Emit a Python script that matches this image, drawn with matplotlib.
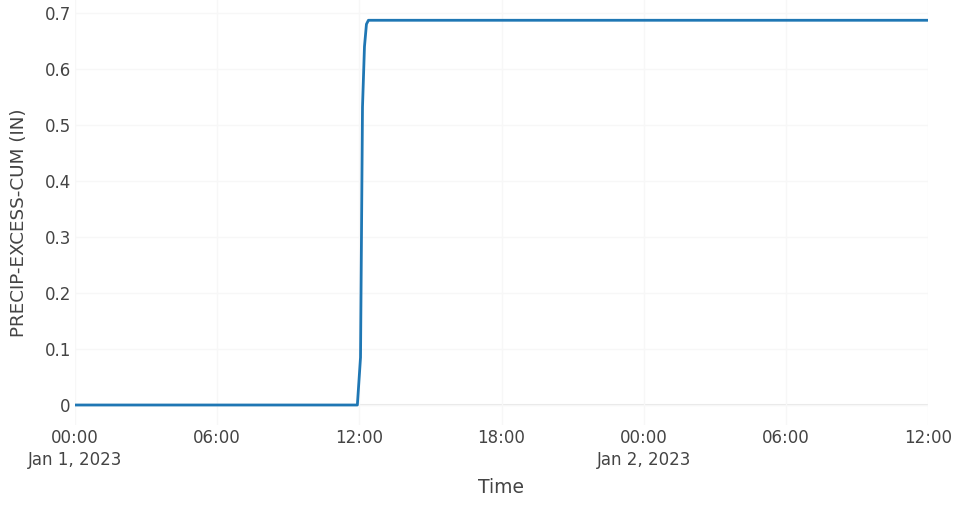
import matplotlib
matplotlib.use("Agg")
import matplotlib.pyplot as plt
import pandas as pd

plt.rcParams["font.family"] = ["DejaVu Sans"]

# cumulative excess precipitation (in)
times = pd.to_datetime([
    "2023-01-01 00:00", "2023-01-01 11:55", "2023-01-01 12:03",
    "2023-01-01 12:08", "2023-01-01 12:13", "2023-01-01 12:18",
    "2023-01-01 12:23", "2023-01-02 12:00",
])
precip_cum = [0.0, 0.0, 0.085, 0.532, 0.64, 0.68, 0.687, 0.687]

tick_times = pd.date_range("2023-01-01 00:00", "2023-01-02 12:00", freq="6h")
tick_labels = ["00:00\nJan 1, 2023", "06:00", "12:00", "18:00",
               "00:00\nJan 2, 2023", "06:00", "12:00"]
y_ticks = [0, 0.1, 0.2, 0.3, 0.4, 0.5, 0.6, 0.7]
y_labels = ["0", "0.1", "0.2", "0.3", "0.4", "0.5", "0.6", "0.7"]

W, H = 954, 505
fig = plt.figure(figsize=(W / 100, H / 100), dpi=100)
ax = fig.add_axes([75 / W, (H - 425) / H, (928 - 75) / W, 425 / H])

text_c = "#444444"
ax.plot(times, precip_cum, color="#1f77b4", linewidth=2.0, zorder=3)

ax.set_xlim(tick_times[0], tick_times[-1])
ax.set_ylim(-0.0357, 0.7232)
ax.set_xticks(tick_times)
ax.set_xticklabels(tick_labels, linespacing=1.25)
ax.set_yticks(y_ticks)
ax.set_yticklabels(y_labels)

ax.grid(True, color="#f7f7f7", linewidth=1.0, zorder=0)
ax.axhline(0, color="#e8e8e8", linewidth=1.5, zorder=1)
for s in ax.spines.values():
    s.set_visible(False)
ax.tick_params(axis="both", length=0, labelsize=12, colors=text_c)
ax.tick_params(axis="x", pad=3)
ax.tick_params(axis="y", pad=3)

ax.set_xlabel("Time", fontsize=13.5, color=text_c, labelpad=7)
ax.set_ylabel("PRECIP-EXCESS-CUM (IN)", fontsize=13.2, color=text_c)
ax.yaxis.set_label_coords(-0.055, 0.475)

fig.savefig("out.png", dpi=100)
